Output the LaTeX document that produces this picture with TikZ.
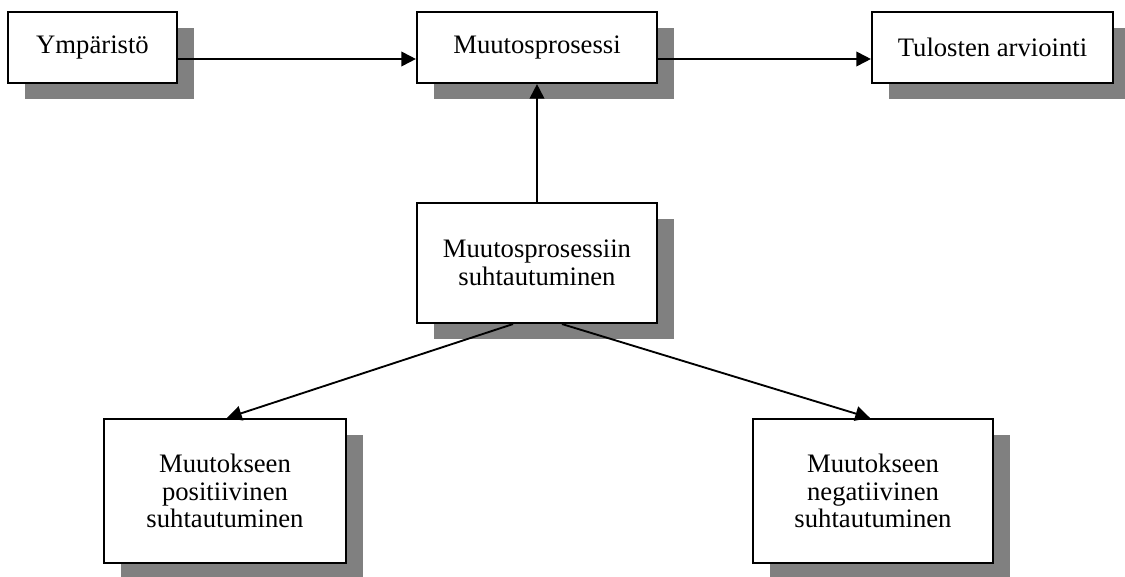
\documentclass[tikz,border=0pt]{standalone}
\usepackage{fontspec}
\setmainfont{Liberation Serif}
\usetikzlibrary{arrows.meta,shadows,calc}
\definecolor{shadowgray}{RGB}{128,128,128}
\begin{document}
\begin{tikzpicture}[x=0.75pt,y=-0.75pt,
  box/.style={draw=black, line width=1.6pt, fill=white, align=center, inner sep=0pt,
    font=\fontsize{20}{20.8}\selectfont,
    drop shadow={shadow xshift=12.75pt, shadow yshift=-12pt, fill=shadowgray, opacity=1}},
  conn/.style={line width=1.4pt, -{Triangle[length=11pt,width=11pt]}}]
\useasboundingbox (0,0) rectangle (1125,577);
\node[box, minimum width=126.75pt, minimum height=53.25pt] (env) at (92.5,47.5) {Ympäristö};
\node[box, minimum width=180pt, minimum height=53.25pt] (proc) at (537,47.5) {Muutosprosessi};
\node[box, minimum width=180.75pt, minimum height=53.25pt] (eval) at (992.5,47.5) {Tulosten arviointi};
\node[box, minimum width=180pt, minimum height=90pt] (att) at (537,263) {Muutosprosessiin\\suhtautuminen};
\node[box, minimum width=181.5pt, minimum height=108pt] (pos) at (225,491) {Muutokseen\\positiivinen\\suhtautuminen};
\node[box, minimum width=180pt, minimum height=108pt] (neg) at (873,491) {Muutokseen\\negatiivinen\\suhtautuminen};
\draw[conn] ($(env.east)+(0,11.5)$) -- ($(proc.west)+(0,11.5)$);
\draw[conn] ($(proc.east)+(0,11.5)$) -- ($(eval.west)+(0,11.5)$);
\draw[conn] (att.north) -- (proc.south);
\draw[conn] ($(att.south)+(-24,0)$) -- ($(pos.north)+(2,0)$);
\draw[conn] ($(att.south)+(25,0)$) -- ($(neg.north)+(-3,0)$);
\end{tikzpicture}
\end{document}
